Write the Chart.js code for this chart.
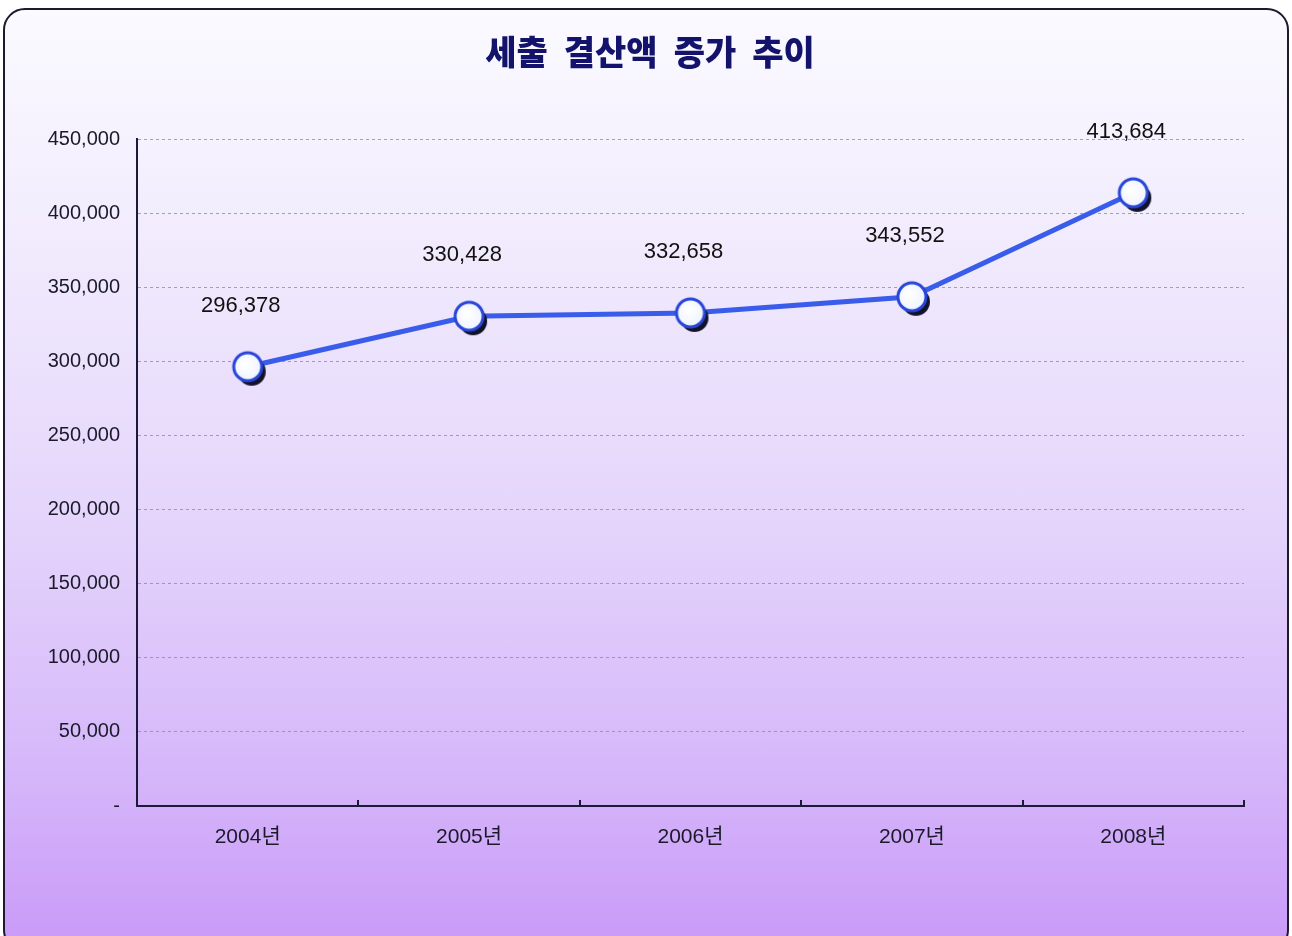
<!DOCTYPE html>
<html>
<head>
<meta charset="utf-8">
<script src="https://cdn.jsdelivr.net/npm/chart.js@4/dist/chart.umd.min.js"></script>
<style>
  html, body { margin: 0; padding: 0; background: #ffffff; }
  #wrap { position: relative; width: 1292px; height: 936px; overflow: hidden; }
  #panel {
    position: absolute; left: 3px; top: 8px; width: 1282px; height: 940px;
    border: 2px solid #1c1a2e; border-radius: 22px;
    background: linear-gradient(to bottom, #fbfaff 0%, #f1ebfd 25%, #e4d4fb 55%, #d6b8fa 80%, #c999f8 100%);
  }
  canvas { position: absolute; left: 0; top: 0; }
</style>
</head>
<body>
<div id="wrap">
  <div id="panel"></div>
  <canvas id="c" width="1292" height="936"></canvas>
</div>
<script>
const titleText = '세출 결산액 증가 추이';
const categories = ['2004년', '2005년', '2006년', '2007년', '2008년'];
const values = [296378, 330428, 332658, 343552, 413684];
const yTicks = [0, 50000, 100000, 150000, 200000, 250000, 300000, 350000, 400000, 450000];

const FONT = '"Liberation Sans", "Noto Sans CJK KR", sans-serif';

function fmt(v) { return v === 0 ? '-' : v.toLocaleString('en-US'); }

function makeMarker() {
  const c = document.createElement('canvas');
  const s = 50;
  c.width = s; c.height = s;
  const g = c.getContext('2d');
  const cx = s / 2, cy = s / 2, r = 14;
  g.fillStyle = '#12122a';
  g.beginPath(); g.arc(cx + 4, cy + 5, r, 0, Math.PI * 2); g.fill();
  const grad = g.createRadialGradient(cx - 3, cy - 3, 2, cx, cy, r);
  grad.addColorStop(0, '#ffffff');
  grad.addColorStop(1, '#eef4ff');
  g.fillStyle = grad;
  g.beginPath(); g.arc(cx, cy, r, 0, Math.PI * 2); g.fill();
  g.lineWidth = 3; g.strokeStyle = '#2a46d8';
  g.stroke();
  return c;
}
const marker = makeMarker();

const titlePlugin = {
  id: 'customTitle',
  afterDraw(chart) {
    const ctx = chart.ctx;
    ctx.save();
    ctx.font = '900 34px "Noto Sans CJK KR", sans-serif';
    ctx.fillStyle = '#13136c';
    ctx.textBaseline = 'middle';
    ctx.textAlign = 'left';
    const words = titleText.split(' ');
    const gap = 16;
    const widths = words.map(w => ctx.measureText(w).width);
    const total = widths.reduce((a, b) => a + b, 0) + gap * (words.length - 1);
    let x = 650 - total / 2;
    words.forEach((w, i) => {
      ctx.fillText(w, x, 52);
      x += widths[i] + gap;
    });
    ctx.restore();
  }
};

const labelPlugin = {
  id: 'valueLabels',
  afterDatasetsDraw(chart) {
    const ctx = chart.ctx;
    const meta = chart.getDatasetMeta(0);
    ctx.save();
    ctx.font = '22px ' + FONT;
    ctx.fillStyle = '#111111';
    ctx.textAlign = 'center';
    ctx.textBaseline = 'middle';
    meta.data.forEach((pt, i) => {
      ctx.fillText(fmt(values[i]), pt.x - 7, pt.y - 61);
    });
    ctx.restore();
  }
};

const axisTickPlugin = {
  id: 'catTicks',
  afterDraw(chart) {
    const ctx = chart.ctx;
    const xs = chart.scales.x;
    const a = chart.chartArea;
    ctx.save();
    ctx.strokeStyle = '#1c1a3a';
    ctx.lineWidth = 2;
    for (let i = 1; i < categories.length; i++) {
      const x = Math.round((xs.getPixelForTick(i - 1) + xs.getPixelForTick(i)) / 2);
      ctx.beginPath(); ctx.moveTo(x, a.bottom); ctx.lineTo(x, a.bottom - 6); ctx.stroke();
    }
    ctx.beginPath(); ctx.moveTo(a.right, a.bottom); ctx.lineTo(a.right, a.bottom - 6); ctx.stroke();
    ctx.restore();
  }
};

new Chart(document.getElementById('c'), {
  type: 'line',
  data: {
    labels: categories,
    datasets: [{
      data: values,
      borderColor: '#3a5cea',
      borderWidth: 5,
      tension: 0,
      pointStyle: marker,
      pointRadius: 15,
      pointHoverRadius: 15,
      fill: false
    }]
  },
  options: {
    responsive: false,
    animation: false,
    events: [],
    layout: { padding: { left: 0, right: 48, top: 139, bottom: 0 } },
    plugins: {
      legend: { display: false },
      tooltip: { enabled: false },
      title: { display: false }
    },
    scales: {
      x: {
        offset: true,
        border: { display: true, color: '#1c1a3a', width: 2 },
        grid: { display: false, drawTicks: false },
        ticks: { color: '#1a1a2a', font: { family: FONT, size: 21 }, padding: 19 },
        afterFit(s) { s.height = 130; }
      },
      y: {
        min: 0, max: 450000,
        afterBuildTicks(s) { s.ticks = yTicks.map(v => ({ value: v })); },
        border: { display: true, color: '#1c1a3a', width: 2, dash: [3, 3] },
        grid: {
          color: 'rgba(140,140,150,0.8)',
          lineWidth: 1,
          drawTicks: true,
          tickLength: 0
        },
        ticks: {
          color: '#1a1a2a',
          font: { family: FONT, size: 20 },
          padding: 17,
          callback: (v) => fmt(v)
        },
        afterFit(s) { s.width = 137; }
      }
    }
  },
  plugins: [titlePlugin, labelPlugin, axisTickPlugin]
});
</script>
</body>
</html>
